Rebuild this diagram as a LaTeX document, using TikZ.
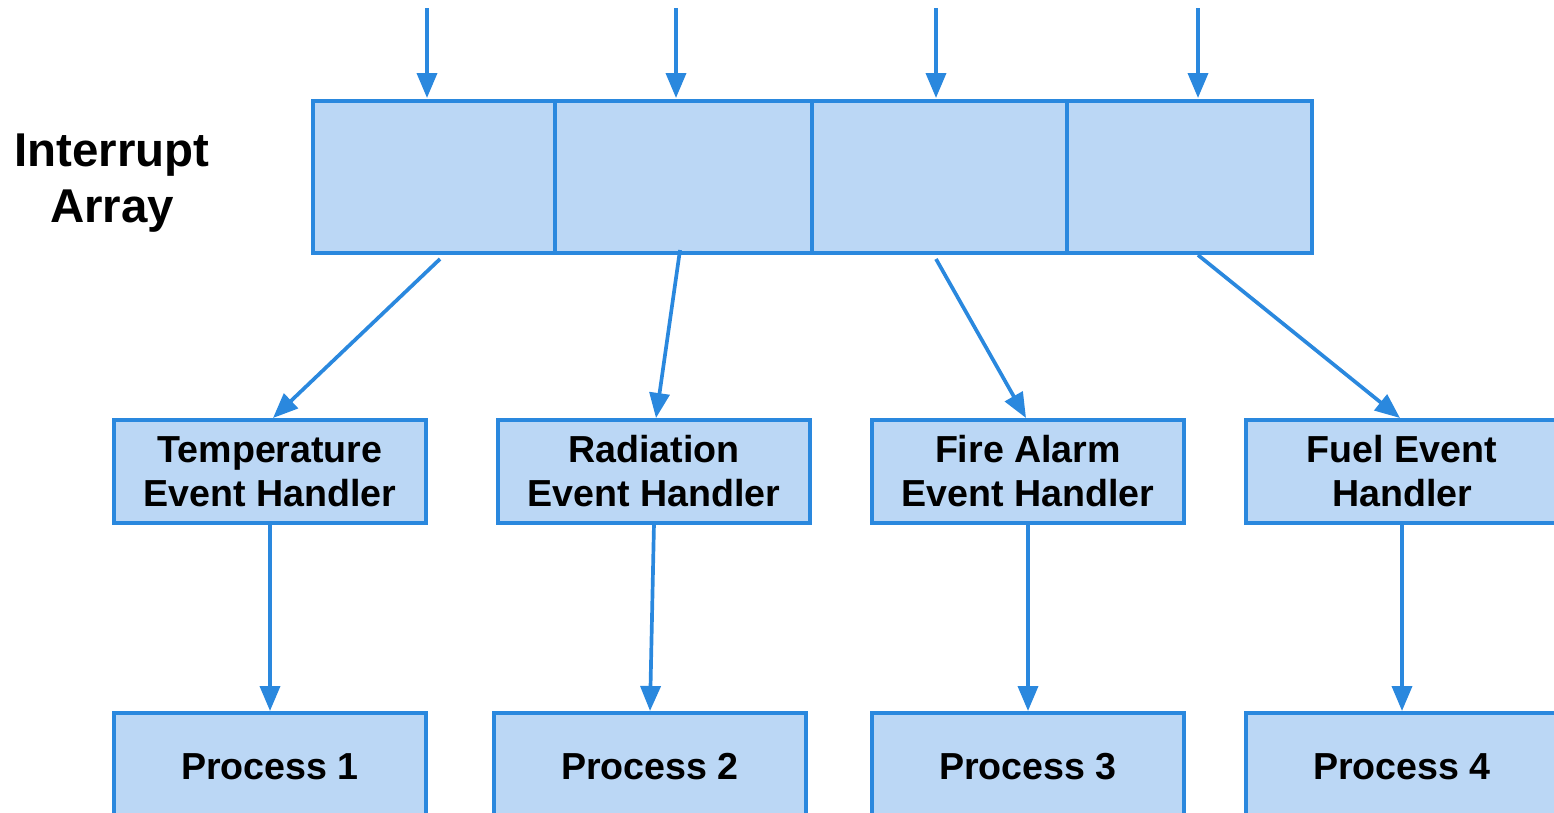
\documentclass[tikz,border=0pt]{standalone}
\usepackage{fontspec}
\setmainfont{Liberation Sans}
\usepackage{xcolor}
\usepackage{tikz}
\usetikzlibrary{arrows.meta,positioning}
\usetikzlibrary{calc}

\definecolor{lineblue}{HTML}{2A88DE}
\definecolor{cellblue}{HTML}{BBD7F5}

\begin{document}
\begin{tikzpicture}[
                every node/.style={font=\bfseries\fontsize{21.4}{25}\selectfont},
                cell/.style={draw=lineblue, fill=cellblue, line width=2.2pt, inner sep=0pt, outer sep=0pt, minimum height=3.04cm, anchor=north west},
                box/.style={draw=lineblue, fill=cellblue, line width=2.2pt, align=center, inner sep=0pt, outer sep=0pt, minimum width=6.24cm},
                rel/.style={-{Triangle[length=0.5cm,width=0.4cm]}, draw=lineblue, fill=lineblue, line width=2.1pt}
            ]
                \clip (0,0) rectangle (31.08,-16.24);

                % Interrupt array: four cells side by side
                \node[cell, minimum width=4.84cm] (cell1) at (6.26,-2.02) {};
                \node[cell, minimum width=5.14cm] (cell2) at (cell1.north east) {};
                \node[cell, minimum width=5.10cm] (cell3) at (cell2.north east) {};
                \node[cell, minimum width=4.90cm] (cell4) at (cell3.north east) {};
                \node[align=center, font=\bfseries\fontsize{27}{32}\selectfont] (title) at (2.24,-3.66) {Interrupt\\Array};

                % Incoming interrupts
                \coordinate (in1) at (8.54,-0.16);
                \coordinate (in2) at (13.52,-0.16);
                \coordinate (in3) at (18.72,-0.16);
                \coordinate (in4) at (23.96,-0.16);
                \foreach \i in {1,...,4}
                    \draw[rel] (in\i) -- ([yshift=0.06cm]in\i |- cell\i.north);

                % Event handlers
                \node[box, minimum height=2.06cm] (h1) at (5.40,-9.43) {Temperature\\Event Handler};
                \node[box, minimum height=2.06cm] (h2) at (13.08,-9.43) {Radiation\\Event Handler};
                \node[box, minimum height=2.06cm] (h3) at (20.56,-9.43) {Fire Alarm\\Event Handler};
                \node[box, minimum height=2.06cm] (h4) at (28.04,-9.43) {Fuel Event\\Handler};

                % Processes
                \node[box, minimum height=2.16cm] (p1) at (5.40,-15.34) {Process 1};
                \node[box, minimum height=2.16cm] (p2) at (13.00,-15.34) {Process 2};
                \node[box, minimum height=2.16cm] (p3) at (20.56,-15.34) {Process 3};
                \node[box, minimum height=2.16cm] (p4) at (28.04,-15.34) {Process 4};

                % Array cells to handlers
                \draw[rel] ($(cell1.south)+(0.12,-0.12)$) -- ($(h1.north)+(0.06,0.04)$);
                \draw[rel] ($(cell2.south)+(-0.07,0.06)$) -- ($(h2.north)+(0.04,0.04)$);
                \draw[rel] ($(cell3.south)+(-0.07,-0.12)$) -- ($(h3.north)+(-0.04,0.04)$);
                \draw[rel] ($(cell4.south)+(0.17,-0.04)$) -- ($(h4.north)+(-0.04,0.04)$);

                % Handlers to processes
                \foreach \i in {1,...,4}
                    \draw[rel] (h\i.south) -- ([yshift=0.04cm]p\i.north);

            \end{tikzpicture}
\end{document}
